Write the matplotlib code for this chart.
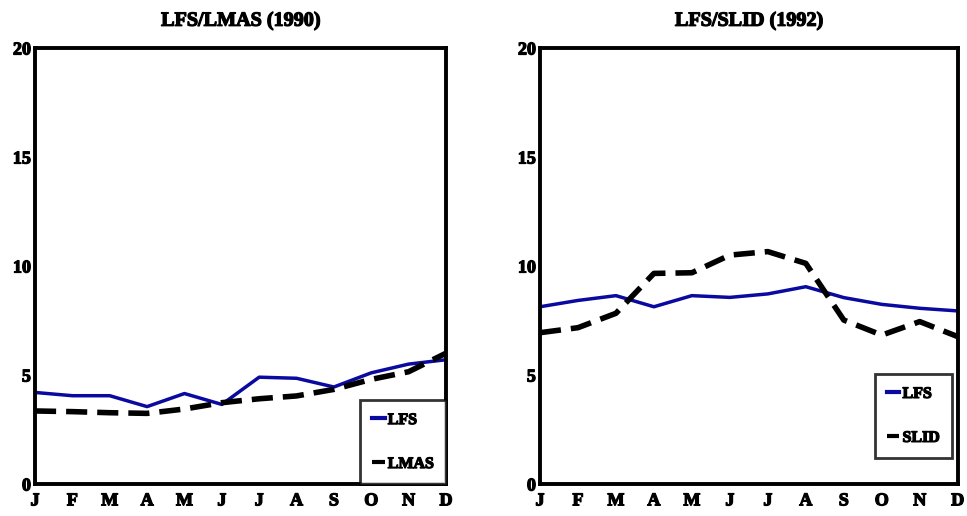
import matplotlib
matplotlib.use("Agg")
import matplotlib.pyplot as plt
import matplotlib.patheffects as pe

months = ["J", "F", "M", "A", "M", "J", "J", "A", "S", "O", "N", "D"]

# LFS/LMAS (1990)
lfs_1990 = [4.2, 4.05, 4.05, 3.55, 4.15, 3.65, 4.9, 4.85, 4.45, 5.1, 5.5, 5.7]
lmas_1990 = [3.35, 3.32, 3.27, 3.24, 3.44, 3.73, 3.91, 4.04, 4.34, 4.8, 5.15, 6.0]

# LFS/SLID (1992)
lfs_1992 = [8.13, 8.42, 8.64, 8.13, 8.64, 8.56, 8.72, 9.05, 8.55, 8.24, 8.06, 7.94]
slid_1992 = [6.94, 7.17, 7.83, 9.66, 9.69, 10.5, 10.66, 10.12, 7.52, 6.83, 7.45, 6.76]

plt.rcParams["font.family"] = ["Liberation Serif", "DejaVu Serif"]
plt.rcParams["font.weight"] = "bold"

# heavier look for text
heavy = [pe.withStroke(linewidth=0.9, foreground="black")]

fig = plt.figure(figsize=(9.67, 5.16), dpi=100)
ax1 = fig.add_axes([0.0362, 0.062, 0.425, 0.845])
ax2 = fig.add_axes([0.5584, 0.062, 0.432, 0.845])

blue = "#0a0aa0"
x = list(range(len(months)))

panels = [
    (ax1, "LFS/LMAS (1990)", lfs_1990, lmas_1990, "LMAS", (1.0, 0.0)),
    (ax2, "LFS/SLID (1992)", lfs_1992, slid_1992, "SLID", (0.986, 0.06)),
]

for ax, title, a, b, name, loc in panels:
    ax.plot(x, a, color=blue, lw=2.5, label="LFS")
    ax.plot(x, b, color="black", lw=4, ls=(0, (3.8, 1.8)), label=name)
    ax.set_xlim(0, 11)
    ax.set_ylim(0, 20)
    ax.set_xticks(x)
    ax.set_xticklabels(months)
    ax.set_yticks([0, 5, 10, 15, 20])
    ax.tick_params(length=0, labelsize=13)
    ax.tick_params(axis="x", pad=6)
    ax.tick_params(axis="y", pad=3)
    for lab in ax.get_xticklabels() + ax.get_yticklabels():
        lab.set_path_effects(heavy)
    for s in ax.spines.values():
        s.set_linewidth(2.8)
    t = ax.set_title(title, fontsize=14.5, fontweight="bold", pad=16)
    t.set_path_effects(heavy)
    leg = ax.legend(loc="lower right", bbox_to_anchor=loc, borderaxespad=0,
                    fontsize=11.5, handlelength=0.8, handletextpad=0.2,
                    labelspacing=1.75, fancybox=False, edgecolor="black",
                    borderpad=0.75)
    leg.get_frame().set_linewidth(2)
    for txt in leg.get_texts():
        txt.set_path_effects(heavy)
    for ln in leg.get_lines():
        ln.set_linewidth(3)

fig.savefig("out.png", dpi=100)
